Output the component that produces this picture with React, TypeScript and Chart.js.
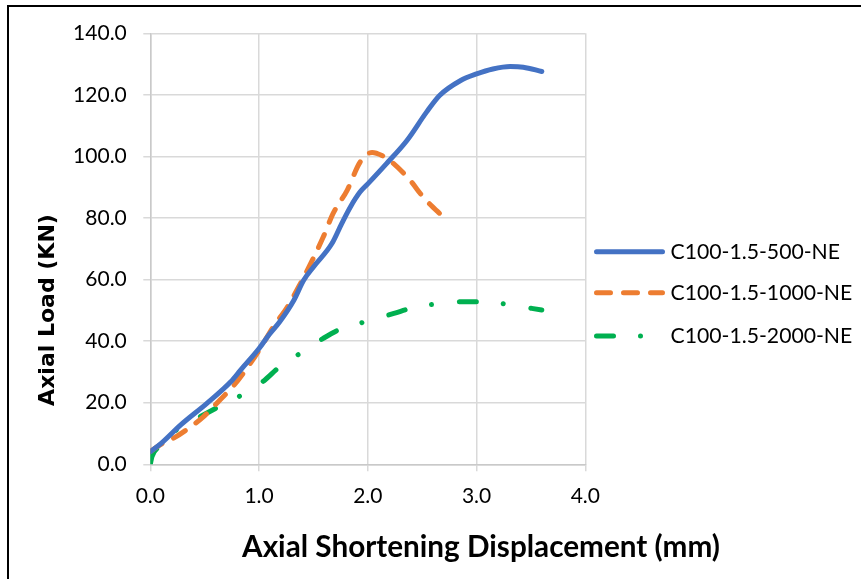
import { useEffect, useRef } from 'react';
import { Chart, registerables } from 'chart.js';

Chart.register(...registerables);

// ---- Data ----
const seriesNames = ['C100-1.5-500-NE', 'C100-1.5-1000-NE', 'C100-1.5-2000-NE'];

const x500 = [0, 0.1, 0.28, 0.52, 0.74, 0.83, 1.0, 1.09, 1.19, 1.32, 1.41, 1.5, 1.67, 1.76, 1.84, 1.93, 2.0, 2.17, 2.36, 2.54, 2.66, 2.85, 3.0, 3.15, 3.31, 3.43, 3.6];
const y500 = [4.1, 6.8, 12.8, 19.8, 26.8, 30.6, 37.6, 42.0, 46.3, 53.3, 59.8, 64.1, 71.7, 78.2, 83.6, 88.5, 91.1, 97.6, 105.2, 114.4, 119.8, 124.6, 126.8, 128.4, 129.2, 129.0, 127.6];

const x1000 = [0, 0.09, 0.21, 0.34, 0.49, 0.64, 0.77, 0.92, 1.01, 1.13, 1.26, 1.38, 1.49, 1.59, 1.68, 1.81, 1.93, 2.04, 2.13, 2.24, 2.39, 2.51, 2.71];
const y1000 = [4.1, 6.3, 8.4, 11.4, 15.5, 20.9, 25.7, 32.8, 37.6, 44.6, 51.1, 58.7, 66.3, 73.8, 81.4, 89.0, 98.2, 101.3, 100.3, 97.6, 92.2, 86.8, 79.8];

const x2000 = [0, 0.015, 0.08, 0.25, 0.46, 0.63, 0.84, 1.04, 1.19, 1.39, 1.59, 1.76, 2.0, 2.24, 2.42, 2.65, 2.88, 3.09, 3.32, 3.6];
const y2000 = [0, 2.5, 5.7, 11.4, 15.5, 18.7, 22.5, 27.0, 31.7, 36.3, 40.9, 44.1, 46.5, 49.0, 50.9, 52.2, 52.8, 52.8, 51.7, 50.1];

const xTickValues = [0, 1, 2, 3, 4];
const yTickValues = [0, 20, 40, 60, 80, 100, 120, 140];

const xTitle = 'Axial Shortening Displacement (mm)';
const yTitle = 'Axial Load (KN)';

const toPoints = (xs: number[], ys: number[]) => xs.map((x, i) => ({ x, y: ys[i] }));

const GRID = '#d9d9d9';
const AXIS = '#c9c9c9';

const overlayPlugin = {
  id: 'overlayText',
  afterDraw(chart: any) {
    const ctx = chart.ctx as CanvasRenderingContext2D;
    // Y title
    ctx.save();
    ctx.fillStyle = '#000';
    ctx.font = 'bold 22px "DejaVu Sans"';
    ctx.textAlign = 'center';
    ctx.textBaseline = 'middle';
    ctx.translate(48, 310);
    ctx.rotate(-Math.PI / 2);
    ctx.fillText(yTitle, 0, 0);
    ctx.restore();

    // X title
    ctx.save();
    ctx.fillStyle = '#000';
    ctx.font = 'bold 29.7px Lato';
    ctx.textAlign = 'center';
    ctx.textBaseline = 'alphabetic';
    ctx.fillText(xTitle, 481, 557);
    ctx.restore();

    // Legend
    const rows = [251.7, 292.7, 336];
    chart.data.datasets.forEach((ds: any, i: number) => {
      const y = rows[i];
      ctx.save();
      ctx.strokeStyle = ds.borderColor;
      ctx.lineWidth = ds.borderWidth;
      ctx.lineCap = 'round';
      ctx.setLineDash(ds.borderDash || []);
      ctx.beginPath();
      ctx.moveTo(596.5, y);
      ctx.lineTo(662.5, y);
      ctx.stroke();
      ctx.restore();
      ctx.save();
      ctx.fillStyle = '#000';
      ctx.font = '21.2px Lato';
      ctx.textAlign = 'left';
      ctx.textBaseline = 'middle';
      ctx.fillText(ds.label, 670.5, y);
      ctx.restore();
    });
  },
};

export default function App() {
  const canvasRef = useRef<HTMLCanvasElement | null>(null);

  useEffect(() => {
    const canvas = canvasRef.current;
    if (!canvas) return;
    const common = {
      showLine: true,
      pointRadius: 0,
      pointHoverRadius: 0,
      borderWidth: 5,
      borderCapStyle: 'round',
      borderJoinStyle: 'round',
      cubicInterpolationMode: 'monotone',
      fill: false,
    };
    const chart = new Chart(canvas, {
      type: 'scatter',
      data: {
        datasets: [
          { ...common, label: seriesNames[0], data: toPoints(x500, y500), borderColor: '#4472C4', backgroundColor: '#4472C4' },
          { ...common, label: seriesNames[1], data: toPoints(x1000, y1000), borderColor: '#ED7D31', backgroundColor: '#ED7D31', borderDash: [14, 13] },
          { ...common, label: seriesNames[2], data: toPoints(x2000, y2000), borderColor: '#00B050', backgroundColor: '#00B050', borderDash: [17, 27, 0.001, 28] },
        ] as any,
      },
      options: {
        animation: false,
        responsive: true,
        maintainAspectRatio: false,
        layout: { padding: { left: 0, top: 33.3, right: 275.7, bottom: 0 } },
        plugins: {
          legend: { display: false },
          tooltip: { enabled: false },
          title: { display: false },
        },
        scales: {
          x: {
            type: 'linear',
            min: 0,
            max: 4,
            afterBuildTicks: (s: any) => {
              s.ticks = xTickValues.map((v) => ({ value: v }));
            },
            afterFit: (s: any) => {
              s.height = 579 - 464.3;
            },
            grid: { color: GRID, lineWidth: 1.5, tickLength: 7, tickColor: GRID },
            border: { color: AXIS, width: 1.5 },
            ticks: {
              font: { family: 'Lato', size: 21 },
              color: '#000',
              padding: 12,
              maxRotation: 0,
              autoSkip: false,
              callback: (v: any) => Number(v).toFixed(1),
            },
          },
          y: {
            type: 'linear',
            min: 0,
            max: 140,
            afterBuildTicks: (s: any) => {
              s.ticks = yTickValues.map((v) => ({ value: v }));
            },
            afterFit: (s: any) => {
              s.width = 150.3;
            },
            grid: { color: GRID, lineWidth: 1.5, tickLength: 7, tickColor: GRID },
            border: { color: AXIS, width: 1.5 },
            ticks: {
              font: { family: 'Lato', size: 21 },
              color: '#000',
              padding: 16.5,
              autoSkip: false,
              callback: (v: any) => Number(v).toFixed(1),
            },
          },
        },
      } as any,
      plugins: [overlayPlugin],
    });

    let alive = true;
    if ((document as any).fonts?.load) {
      Promise.all([
        (document as any).fonts.load('21px Lato'),
        (document as any).fonts.load('bold 29px Lato'),
        (document as any).fonts.load('bold 22px "DejaVu Sans"'),
      ]).then(() => {
        if (alive) chart.update();
      }).catch(() => {});
    }

    return () => {
      alive = false;
      chart.destroy();
    };
  }, []);

  return (
    <div style={{ position: 'fixed', left: 0, top: 0, width: 861, height: 579, overflow: 'hidden', background: '#fff' }}>
      <div style={{ position: 'absolute', left: 0, top: 0, width: 861, height: 579 }}>
        <canvas ref={canvasRef} />
      </div>
      <div
        style={{
          position: 'absolute',
          left: 7,
          top: 5,
          width: 900,
          height: 600,
          borderTop: '2px solid #000',
          borderLeft: '2px solid #000',
          pointerEvents: 'none',
        }}
      />
    </div>
  );
}
